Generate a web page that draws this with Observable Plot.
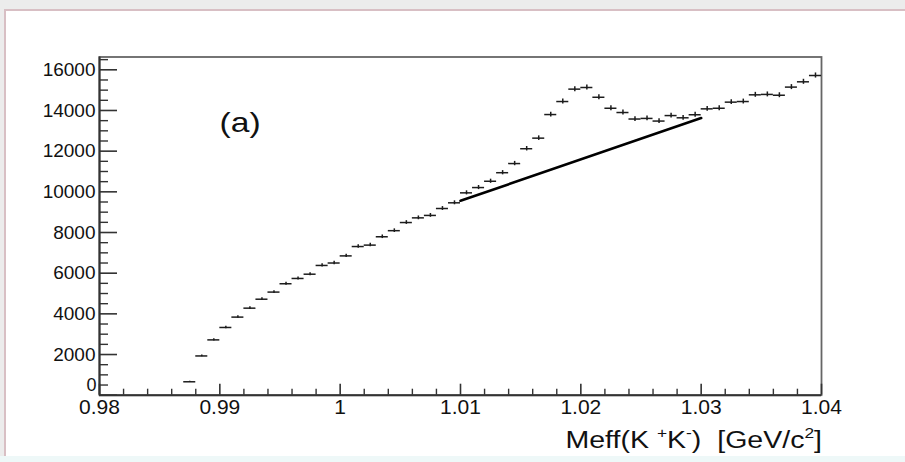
<!DOCTYPE html>
<html>
<head>
<meta charset="utf-8">
<script src="https://cdn.jsdelivr.net/npm/d3@7"></script>
<script src="https://cdn.jsdelivr.net/npm/@observablehq/plot@0.6"></script>
<style>
  html, body { margin: 0; padding: 0; }
  body {
    width: 905px; height: 462px; position: relative; overflow: hidden;
    background: #ececec;
    font-family: "Liberation Sans", Arial, Helvetica, sans-serif;
  }
  #pad {
    position: absolute; left: 4px; top: 9px; width: 905px; height: 447px;
    background: #ffffff;
    border-left: 2px solid #d8bfc4; border-top: 2px solid #d8bfc4;
  }
  #foot { position: absolute; left: 0; top: 456px; width: 905px; height: 6px; background: #eef8f8; }
  #chart { position: absolute; left: 0; top: 0; }
</style>
</head>
<body>
<div id="pad"></div>
<div id="foot"></div>
<div id="chart"></div>
<script>
// K+K- effective mass spectrum, 1 MeV bins (bin centres in GeV/c^2)
const massCenters = [
  0.9875, 0.9885, 0.9895, 0.9905, 0.9915, 0.9925, 0.9935, 0.9945, 0.9955, 0.9965,
  0.9975, 0.9985, 0.9995, 1.0005, 1.0015, 1.0025, 1.0035, 1.0045, 1.0055, 1.0065,
  1.0075, 1.0085, 1.0095, 1.0105, 1.0115, 1.0125, 1.0135, 1.0145, 1.0155, 1.0165,
  1.0175, 1.0185, 1.0195, 1.0205, 1.0215, 1.0225, 1.0235, 1.0245, 1.0255, 1.0265,
  1.0275, 1.0285, 1.0295, 1.0305, 1.0315, 1.0325, 1.0335, 1.0345, 1.0355, 1.0365,
  1.0375, 1.0385, 1.0395
];
// entries per bin
const counts = [
    660,  1930,  2720,  3330,  3840,  4280,  4720,  5070,  5480,  5740,
   5950,  6380,  6500,  6850,  7310,  7380,  7790,  8090,  8490,  8720,
   8840,  9180,  9460,  9950, 10210, 10520, 10940, 11390, 12120, 12640,
  13800, 14440, 15050, 15130, 14650, 14110, 13900, 13580, 13610, 13480,
  13750, 13640, 13790, 14080, 14110, 14410, 14440, 14770, 14790, 14750,
  15150, 15410, 15720
];
const binWidth = 0.001;

// straight background line under the phi peak
const bgMass = [1.01, 1.03];
const bgCounts = [9560, 13630];

// axes
const xDomain = [0.98, 1.04];
const yDomain = [0, 16630];
const xMajor = [0.98, 0.99, 1.00, 1.01, 1.02, 1.03, 1.04];
const xTickLabels = ["0.98", "0.99", "1", "1.01", "1.02", "1.03", "1.04"];
const yMajor = [0, 2000, 4000, 6000, 8000, 10000, 12000, 14000, 16000];
const yTickLabels = ["0", "2000", "4000", "6000", "8000", "10000", "12000", "14000", "16000"];
const xMinor = d3.range(490, 521).map(i => i / 500).filter(v => !xMajor.some(m => Math.abs(m - v) < 1e-9));
const yMinor = d3.range(1, 34).map(i => i * 500).filter(v => v % 2000 !== 0);

const panelTag = "(a)";

const bins = massCenters.map((m, i) => ({ m, n: counts[i], err: Math.sqrt(counts[i]) }));
const bg = bgMass.map((m, i) => ({ m, n: bgCounts[i] }));

const W = 905, H = 462;
const mL = 99, mR = 84, mT = 56.5, mB = 67.3;
const frameW = W - mL - mR, frameH = H - mT - mB;
const ink = "#1c1c1c";
const font = "'Liberation Sans', Arial, sans-serif";

const chart = Plot.plot({
  width: W,
  height: H,
  marginLeft: mL, marginRight: mR, marginTop: mT, marginBottom: mB,
  style: { background: "transparent", fontFamily: font, color: "#111", overflow: "visible" },
  x: { domain: xDomain, axis: null },
  y: { domain: yDomain, axis: null },
  marks: [
    Plot.frame({ stroke: "#666", strokeWidth: 1.8 }),
    // axis lines
    Plot.ruleX([xDomain[0]], { x: d => d, stroke: "#333", strokeWidth: 2 }),
    Plot.ruleY([yDomain[0]], { y: d => d, stroke: "#333", strokeWidth: 2 }),
    // inward ticks
    Plot.ruleY(yMajor, { y: d => d, insetRight: frameW - 18, stroke: "#333", strokeWidth: 1.6 }),
    Plot.ruleY(yMinor, { y: d => d, insetRight: frameW - 9, stroke: "#333", strokeWidth: 1.4 }),
    Plot.ruleX(xMajor, { x: d => d, insetTop: frameH - 11, stroke: "#333", strokeWidth: 1.6 }),
    Plot.ruleX(xMinor, { x: d => d, insetTop: frameH - 6, stroke: "#333", strokeWidth: 1.4 }),
    // tick labels (the zero label sits a little higher, clear of 0.98)
    Plot.axisY(yMajor.slice(1), {
      tickSize: 0, tickPadding: 4, fontSize: 19, label: null, fill: "#111",
      tickFormat: d => yTickLabels[yMajor.indexOf(d)]
    }),
    Plot.text([yMajor[0]], {
      y: d => d, frameAnchor: "left", dx: -3, dy: -10, textAnchor: "end",
      text: d => yTickLabels[yMajor.indexOf(d)], fontSize: 18, fill: "#111"
    }),
    Plot.axisX(xMajor, {
      tickSize: 0, tickPadding: 4, fontSize: 21, label: null, fill: "#111",
      tickFormat: d => xTickLabels[xMajor.indexOf(d)]
    }),
    // histogram points: bin-width bars and statistical errors
    Plot.ruleY(bins, { y: "n", x1: d => d.m - binWidth / 2, x2: d => d.m + binWidth / 2, stroke: ink, strokeWidth: 1.5 }),
    Plot.ruleX(bins, { x: "m", y1: d => d.n - d.err, y2: d => d.n + d.err, stroke: ink, strokeWidth: 1.5 }),
    // background line
    Plot.line(bg, { x: "m", y: "n", stroke: "#000", strokeWidth: 2.6 }),
    // panel tag
    Plot.text([panelTag], { frameAnchor: "top-left", dx: 120, dy: 66, textAnchor: "start", lineAnchor: "middle", fontSize: 28, fill: "#111" })
  ]
});

document.getElementById("chart").appendChild(chart);

// the panel tag is set slightly wide
d3.select(chart).selectAll("text").filter(function () { return this.textContent === panelTag; })
  .each(function () {
    const t = d3.select(this);
    t.attr("textLength", this.getComputedTextLength() * 1.2).attr("lengthAdjust", "spacingAndGlyphs");
  });

// x-axis title with superscripts, right-aligned to the end of the axis
const xs = chart.scale("x");
const title = d3.select(chart).append("text")
  .attr("x", xs.apply(xDomain[1]) + 1)
  .attr("y", H - 14)
  .attr("text-anchor", "end")
  .attr("fill", "#111")
  .style("font-size", "23px")
  .style("font-family", font);
title.append("tspan").text("Meff(K ");
title.append("tspan").attr("dy", -10).style("font-size", "14px").text("+");
title.append("tspan").attr("dy", 10).text("K");
title.append("tspan").attr("dy", -10).style("font-size", "14px").text("-");
title.append("tspan").attr("dy", 10).text(")  [GeV/c");
title.append("tspan").attr("dy", -10).style("font-size", "14px").text("2");
title.append("tspan").attr("dy", 10).text("]");
// the title is set slightly wide
const natural = title.node().getComputedTextLength();
title.attr("textLength", natural * 1.24).attr("lengthAdjust", "spacingAndGlyphs");
</script>
</body>
</html>
